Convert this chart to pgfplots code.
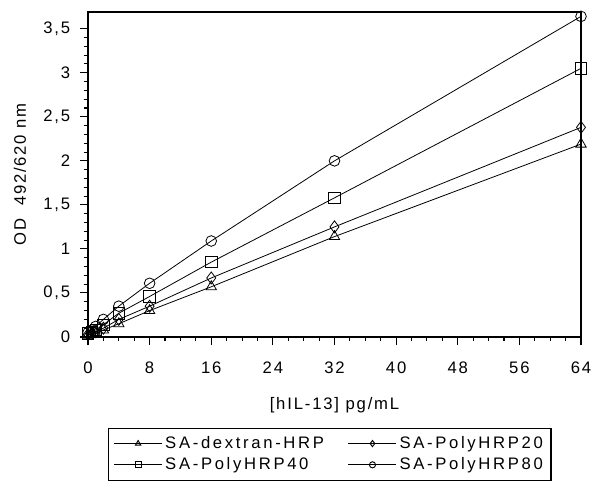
\documentclass[border=0pt]{standalone}
\usepackage{fontspec}
\setmainfont{Liberation Sans}[LetterSpace=11]
\usepackage{pgfplots}
\pgfplotsset{compat=1.18}

\begin{document}
\fontsize{12.5}{14}\selectfont
\begin{tikzpicture}
  \begin{axis}[
      scale only axis,
      width=369.75pt, height=243.75pt,
      xmin=0, xmax=64, ymin=0, ymax=3.69,
      xtick={0,8,...,64}, minor x tick num=3,
      ytick={0,0.5,...,3.5}, minor y tick num=4,
      xtick pos=left, ytick pos=left,
      tick align=outside,
      major tick length=6pt, minor tick length=3pt,
      tick style={black, line width=0.8pt},
      axis line style={line width=0.9pt},
      clip=false,
      /pgf/number format/use comma,
      /pgf/number format/assume math mode=true,
      ticklabel style={font=\fontsize{12.5}{14}\selectfont},
      xticklabel style={yshift=-8pt},
      yticklabel style={xshift=-3pt},
      xlabel={[hIL-13] pg/mL},
      ylabel={OD\ \ 492/620 nm},
      xlabel style={at={(0.5,-0.209)}, anchor=center},
      ylabel style={at={(-0.138,0.5)}, anchor=center},
      legend columns=2,
      legend cell align=left,
      legend style={at={(0.04,-0.279)}, anchor=north west, draw=black, line width=0.9pt,
        font=\fontsize{12.5}{14}\selectfont\addfontfeature{LetterSpace=16},
        /tikz/every even column/.append style={column sep=16pt},
        row sep=1pt, inner xsep=4pt, inner ysep=4pt},
      legend image code/.code={
        \draw[mark repeat=2, mark phase=2, mark size=2.3pt, line width=0.7pt]
          plot coordinates {(0pt,0pt) (18pt,0pt) (36pt,0pt)};},
    ]
    \addplot[black, line width=0.6pt, mark=triangle, mark size=4.5pt,
      mark options={solid, fill=white}] coordinates {
      (0,0.02) (0.5,0.03) (1,0.04) (2,0.08) (4,0.15) (8,0.30) (16,0.57) (32,1.14) (64,2.19)};
    \addplot[black, line width=0.6pt, mark=diamond, mark size=4.5pt,
      mark options={solid, fill=white}] coordinates {
      (0,0.03) (0.5,0.04) (1,0.06) (2,0.10) (4,0.20) (8,0.35) (16,0.67) (32,1.25) (64,2.38)};
    \addplot[black, line width=0.6pt, mark=square, mark size=4.3pt,
      mark options={solid, fill=white}] coordinates {
      (0,0.04) (0.5,0.06) (1,0.08) (2,0.14) (4,0.27) (8,0.46) (16,0.85) (32,1.58) (64,3.05)};
    \addplot[black, line width=0.6pt, mark=o, mark size=4pt,
      mark options={solid, fill=white}] coordinates {
      (0,0.05) (0.5,0.08) (1,0.12) (2,0.20) (4,0.35) (8,0.61) (16,1.09) (32,2.00) (64,3.64)};
    \legend{SA-dextran-HRP, SA-PolyHRP20, SA-PolyHRP40, SA-PolyHRP80}
  \end{axis}
  \pgfresetboundingbox
  \path[use as bounding box] (-66pt,-116.25pt) rectangle (378pt,252.75pt);
\end{tikzpicture}
\end{document}
